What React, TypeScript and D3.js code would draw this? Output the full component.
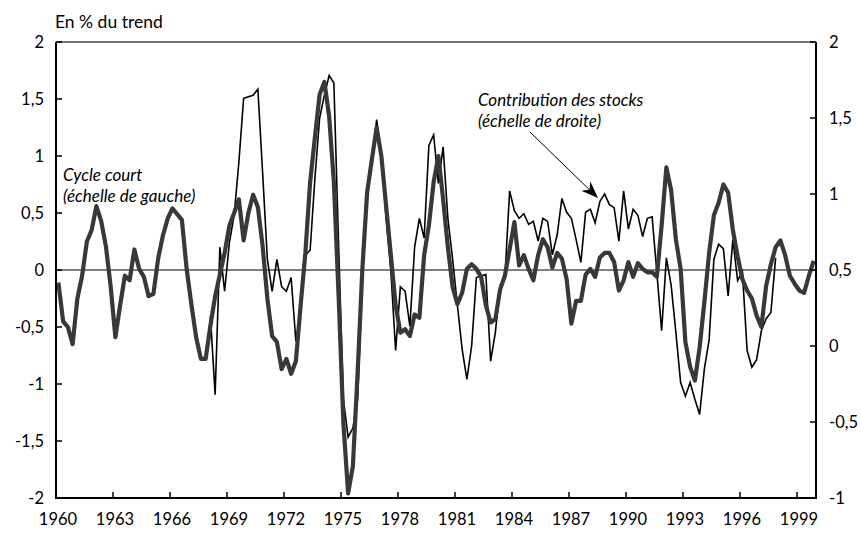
import React from "react";
import * as d3 from "d3";

// ---- Data (quarterly, 1960 T1 – 1999 T4) ----
const YEAR_TICKS = [1960, 1963, 1966, 1969, 1972, 1975, 1978, 1981, 1984, 1987, 1990, 1993, 1996, 1999];
const FIRST_YEAR = 1960;
const N_QUARTERS = 160;
const LEFT_TICKS = [-2, -1.5, -1, -0.5, 0, 0.5, 1, 1.5, 2];
const RIGHT_TICKS = [-1, -0.5, 0, 0.5, 1, 1.5, 2];

// Cycle court (échelle de gauche), en % du trend
const cycleCourt = [
  -0.11, -0.45, -0.5, -0.65, -0.25, -0.05, 0.25, 0.35, 0.56, 0.43,
  0.21, -0.14, -0.59, -0.31, -0.05, -0.09, 0.18, 0.01, -0.06, -0.23,
  -0.21, 0.1, 0.3, 0.45, 0.54, 0.49, 0.44, 0.01, -0.3, -0.59,
  -0.78, -0.78, -0.49, -0.23, -0.04, 0.15, 0.39, 0.5, 0.62, 0.26,
  0.5, 0.66, 0.55, 0.21, -0.25, -0.58, -0.63, -0.87, -0.78, -0.91,
  -0.8, -0.31, 0.15, 0.77, 1.16, 1.54, 1.65, 1.35, 0.77, -0.23,
  -1.34, -1.96, -1.72, -0.9, 0.01, 0.68, 0.97, 1.25, 1.0, 0.56,
  0.13, -0.31, -0.55, -0.52, -0.58, -0.39, -0.42, 0.13, 0.39, 0.77,
  1.0, 0.62, 0.2, -0.15, -0.3, -0.2, 0.01, 0.05, 0.01, -0.06,
  -0.31, -0.46, -0.43, -0.17, -0.05, 0.18, 0.42, 0.04, 0.13, 0.01,
  -0.09, 0.13, 0.27, 0.2, 0.02, 0.15, 0.1, -0.08, -0.47, -0.27,
  -0.27, -0.04, 0.01, -0.06, 0.11, 0.15, 0.15, 0.07, -0.18, -0.09,
  0.07, -0.06, 0.06, 0.01, -0.02, -0.02, -0.06, 0.39, 0.9, 0.7,
  0.27, 0.01, -0.63, -0.85, -0.97, -0.68, -0.28, 0.15, 0.48, 0.59,
  0.75, 0.68, 0.35, 0.12, -0.08, -0.18, -0.25, -0.4, -0.5, -0.14,
  0.05, 0.2, 0.26, 0.13, -0.05, -0.12, -0.18, -0.2, -0.05, 0.08,
];

// Contribution des stocks (échelle de droite), from 1968 T1
const STOCKS_START = 32;
const stocks = [
  0.2, -0.32, 0.65, 0.36, 0.68, 0.86, 1.21, 1.63, 1.64, 1.65,
  1.69, 1.14, 0.57, 0.36, 0.57, 0.39, 0.36, 0.45, 0.03, 0.24,
  0.6, 0.63, 1.1, 1.5, 1.65, 1.78, 1.73, 0.66, -0.35, -0.6,
  -0.54, -0.35, 0.44, 1.01, 1.2, 1.49, 1.25, 0.84, 0.49, -0.03,
  0.39, 0.36, 0.13, 0.65, 0.84, 0.71, 1.32, 1.39, 1.07, 1.31,
  0.84, 0.57, 0.27, -0.02, -0.22, 0.0, 0.45, 0.46, 0.47, -0.1,
  0.09, 0.4, 0.45, 1.02, 0.89, 0.84, 0.87, 0.8, 0.82, 0.69,
  0.84, 0.82, 0.6, 0.73, 0.97, 0.88, 0.84, 0.7, 0.55, 0.88,
  0.9, 0.81, 0.95, 1.0, 0.93, 0.91, 0.69, 1.02, 0.77, 0.9,
  0.86, 0.72, 0.84, 0.85, 0.48, 0.1, 0.58, 0.4, 0.09, -0.24,
  -0.33, -0.24, -0.35, -0.45, -0.15, 0.04, 0.57, 0.67, 0.64, 0.33,
  0.7, 0.43, 0.49, -0.03, -0.14, -0.09, 0.1, 0.18, 0.22, 0.58,
];

const FONT = "Lato, 'Open Sans', sans-serif";
const fmt = (v: number) => String(v).replace(".", ",");

export default function App() {
  const W = 861;
  const H = 536;
  const left = 56, right = 816, top = 42, bottom = 498;
  const TICK_FS = 16.5;
  const NOTE_FS = 17;

  const x = d3.scaleLinear().domain([0, N_QUARTERS]).range([left, right]);
  const yL = d3.scaleLinear().domain([-2, 2]).range([bottom, top]);
  const yR = d3.scaleLinear().domain([-1, 2]).range([bottom, top]);

  const lineL = d3
    .line<number>()
    .x((_, i) => x(i + 0.5))
    .y((d) => yL(d));
  const lineR = d3
    .line<number>()
    .x((_, i) => x(STOCKS_START + i + 0.5))
    .y((d) => yR(d));

  const tickX = (year: number) => x((year - FIRST_YEAR) * 4);

  // arrow geometry
  const a0 = [530, 132];
  const a1 = [598, 198];
  const ang = Math.atan2(a1[1] - a0[1], a1[0] - a0[0]);
  const hl = 17, hw = 6.5, notch = 5;
  const ux = Math.cos(ang), uy = Math.sin(ang);
  const px = -uy, py = ux;
  const baseX = a1[0] - ux * hl, baseY = a1[1] - uy * hl;
  const head = [
    [a1[0], a1[1]],
    [baseX + px * hw, baseY + py * hw],
    [baseX + ux * notch, baseY + uy * notch],
    [baseX - px * hw, baseY - py * hw],
  ];

  return (
    <div style={{ position: "absolute", left: 0, top: 0 }}>
      <svg width={W} height={H} style={{ display: "block", background: "#fff" }} fontFamily={FONT}>
        <text x={55} y={28} fontSize={17.5} fill="#000">En % du trend</text>

        {/* zero line */}
        <line x1={left} x2={right} y1={yL(0)} y2={yL(0)} stroke="#000" strokeWidth={1} />

        {/* series */}
        <path d={lineR(stocks) || ""} fill="none" stroke="#000" strokeWidth={1.6} strokeLinejoin="miter" />
        <path d={lineL(cycleCourt) || ""} fill="none" stroke="#383838" strokeWidth={4.2} strokeLinejoin="round" />

        {/* frame */}
        <line x1={left} x2={right} y1={top} y2={top} stroke="#444" strokeWidth={1.5} />
        <line x1={left} x2={left} y1={top} y2={bottom} stroke="#000" strokeWidth={2} />
        <line x1={right} x2={right} y1={top} y2={bottom} stroke="#000" strokeWidth={2} />
        <line x1={left - 1} x2={right + 1} y1={bottom} y2={bottom} stroke="#000" strokeWidth={2} />

        {/* left axis */}
        {LEFT_TICKS.map((t) => (
          <g key={"l" + t}>
            <line x1={left} x2={left + 6} y1={yL(t)} y2={yL(t)} stroke="#000" strokeWidth={1.5} />
            <text x={44} y={yL(t)} textAnchor="end" dominantBaseline="central" fontSize={TICK_FS}>
              {fmt(t)}
            </text>
          </g>
        ))}

        {/* right axis */}
        {RIGHT_TICKS.map((t) => (
          <g key={"r" + t}>
            <line x1={right - 6} x2={right} y1={yR(t)} y2={yR(t)} stroke="#000" strokeWidth={1.5} />
            <text x={829} y={yR(t)} textAnchor="start" dominantBaseline="central" fontSize={TICK_FS}>
              {fmt(t)}
            </text>
          </g>
        ))}

        {/* bottom axis */}
        {YEAR_TICKS.map((yr) => (
          <g key={"x" + yr}>
            <line x1={tickX(yr)} x2={tickX(yr)} y1={bottom - 6} y2={bottom} stroke="#000" strokeWidth={1.5} />
            <text x={tickX(yr) + 2} y={525} textAnchor="middle" fontSize={TICK_FS}>
              {yr}
            </text>
          </g>
        ))}

        {/* annotations */}
        <text x={63} y={181} fontSize={NOTE_FS} fontStyle="italic">Cycle court</text>
        <text x={63} y={202} fontSize={NOTE_FS} fontStyle="italic">(échelle de gauche)</text>
        <text x={478} y={106} fontSize={NOTE_FS} fontStyle="italic">Contribution des stocks</text>
        <text x={478} y={127} fontSize={NOTE_FS} fontStyle="italic">(échelle de droite)</text>

        <line x1={a0[0]} y1={a0[1]} x2={baseX + ux * notch} y2={baseY + uy * notch} stroke="#000" strokeWidth={1} />
        <polygon points={head.map((p) => p.join(",")).join(" ")} fill="#000" />
      </svg>
    </div>
  );
}
